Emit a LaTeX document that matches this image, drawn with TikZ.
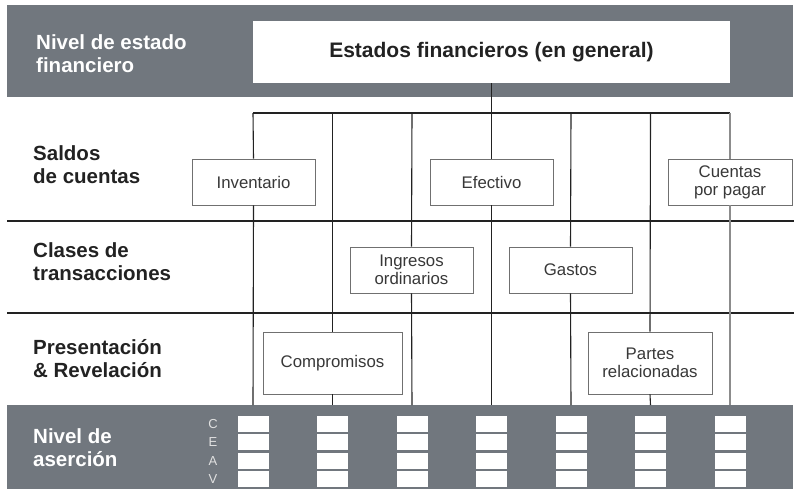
\documentclass[tikz,border=0pt]{standalone}
\usepackage{fontspec}
\setmainfont{Liberation Sans}
\usetikzlibrary{positioning,calc}
\definecolor{bandgray}{RGB}{113,119,126}
\definecolor{inkdark}{RGB}{34,34,34}
\definecolor{boxedge}{RGB}{112,112,112}
\definecolor{lastline}{RGB}{140,140,140}
\definecolor{letterlight}{RGB}{225,225,225}

\begin{document}
\begin{tikzpicture}[x=1pt,y=-1pt,
    levellabel/.style={anchor=west,align=left,inner sep=0pt,text=inkdark,
        font=\fontsize{20.5}{23}\selectfont\bfseries},
    titlebox/.style={fill=white,draw=none,minimum width=477,minimum height=62,
        text=inkdark,font=\fontsize{21}{24}\selectfont\bfseries},
    itembox/.style={draw=boxedge,fill=white,line width=0.8pt,align=center,
        inner sep=0pt,minimum width=123,minimum height=46,text=inkdark!90,
        font=\fontsize{16.8}{18}\selectfont},
    treeline/.style={draw=inkdark,line width=1.1pt},
    sepline/.style={draw=inkdark,line width=2.2pt},
    assertletter/.style={inner sep=0pt,text=letterlight,font=\fontsize{13}{13}\selectfont}]
    \useasboundingbox (0,0) rectangle (794,494);

    % Bands
    \fill[bandgray] (7,5) rectangle (793,97);
    \fill[bandgray] (7,405) rectangle (793,489);

    % Separators
    \draw[sepline] (7,221) -- (794,221);
    \draw[sepline] (7,313) -- (794,313);

    % Level labels
    \node[levellabel,text=white] (lvstate) at (36,54) {Nivel de estado\\financiero};
    \node[levellabel] (lvbal) at (33,165) {Saldos\\de cuentas};
    \node[levellabel] (lvtrans) at (33,262) {Clases de\\transacciones};
    \node[levellabel] (lvpres) at (33,359) {Presentación\\\& Revelación};
    \node[levellabel,text=white] (lvassert) at (33,448) {Nivel de\\aserción};

    % Statements
    \node[titlebox] (fs) at (491.5,52) {Estados financieros (en general)};

    % Accounts, transactions, disclosures
    \node[itembox] (inv) at (253.5,182) {Inventario};
    \node[itembox] (efec) at (491.5,182) {Efectivo};
    \node[itembox,minimum width=124] (ctas) at (730,182) {Cuentas\\por pagar};
    \node[itembox] (ingr) at (411.5,270) {Ingresos\\ordinarios};
    \node[itembox] (gast) at (570.5,270) {Gastos};
    \node[itembox,minimum width=139,minimum height=62] (comp) at (332.5,363) {Compromisos};
    \node[itembox,minimum width=124,minimum height=62] (part) at (650,363) {Partes\\relacionadas};

    % Tree
    \foreach \i in {0,...,6} {
        \coordinate (top\i) at (253+79.5*\i,113);
        \coordinate (bot\i) at (253+79.5*\i,405);
    }
    \draw[treeline] (fs.south) -- (top3);
    \draw[treeline] (top0) -- (top6);
    \foreach \i/\b/\c in {0/inv/inkdark,1/comp/inkdark,2/ingr/inkdark,3/efec/inkdark,
                          4/gast/inkdark,5/part/inkdark,6/ctas/lastline} {
        \draw[treeline,draw=\c] (top\i) -- (\b.north);
        \draw[treeline,draw=\c] (\b.south) -- (bot\i);
    }

    % Assertions
    \foreach \l [count=\k from 0] in {C,E,A,V} {
        \node[assertletter] (as\l) at (213,424+18.3*\k) {\l};
        \foreach \i in {0,...,6} {
            \fill[white] (237.5+79.5*\i,416+18.3*\k) rectangle ++(31,16);
        }
    }
\end{tikzpicture}
\end{document}
